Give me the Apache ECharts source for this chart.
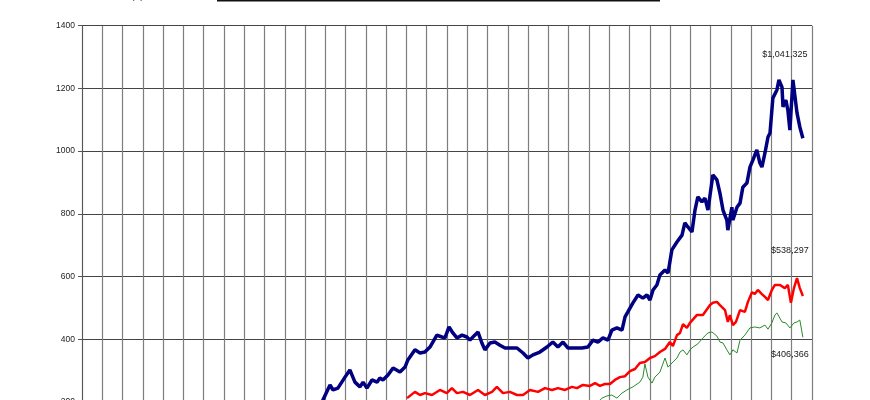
<!DOCTYPE html>
<html>
<head>
<meta charset="utf-8">
<script src="https://cdn.jsdelivr.net/npm/echarts@6/dist/echarts.min.js"></script>
<style>
html,body{margin:0;padding:0;background:#fff;}
#chart{width:870px;height:400px;}
</style>
</head>
<body>
<div id="chart"></div>
<script>
// x = year index along the 36 grid columns, y = value in thousands ($)
const yTicks = [0, 200, 400, 600, 800, 1000, 1200, 1400];
const yearColumns = 36;
const axisTitle = 'In Thousands ($)';
const endLabels = ['$1,041,325', '$538,297', '$406,366'];

const navy = [
[11.64,174],[11.88,206],[12.23,254],[12.38,238],[12.62,244],[12.97,279],[13.21,302],[13.46,263],[13.71,248],[13.86,263],
[14.05,244],[14.30,270],[14.55,263],[14.69,276],[14.84,270],[15.09,286],[15.34,308],[15.68,295],[15.93,311],[16.07,334],
[16.42,366],[16.67,356],[16.91,359],[17.16,375],[17.50,413],[17.75,407],[17.90,404],[18.10,439],[18.29,420],[18.49,404],
[18.74,413],[18.98,407],[19.13,397],[19.28,407],[19.53,423],[19.72,388],[19.87,366],[20.12,388],[20.36,391],[20.61,381],
[20.86,372],[21.10,372],[21.45,372],[21.75,356],[21.99,340],[22.24,350],[22.58,359],[22.93,375],[23.22,391],[23.47,375],
[23.72,391],[23.96,372],[24.31,372],[24.65,372],[24.95,375],[25.20,397],[25.44,391],[25.69,404],[25.94,397],[26.13,429],
[26.38,436],[26.63,429],[26.78,471],[26.92,487],[27.17,516],[27.42,541],[27.66,531],[27.86,541],[28.01,525],[28.16,557],
[28.35,573],[28.50,605],[28.75,621],[28.90,611],[29.09,685],[29.34,710],[29.59,732],[29.73,771],[29.88,758],[30.08,742],
[30.23,812],[30.37,854],[30.57,838],[30.72,850],[30.87,812],[31.11,924],[31.31,908],[31.46,866],[31.61,812],[31.80,780],
[31.85,748],[32.05,821],[32.10,780],[32.30,821],[32.45,834],[32.59,885],[32.79,898],[32.94,949],[33.09,972],[33.28,1004],
[33.43,962],[33.53,949],[33.68,994],[33.83,1045],[33.93,1058],[34.07,1169],[34.27,1195],[34.37,1227],[34.52,1204],[34.57,1141],
[34.71,1163],[34.81,1131],[34.91,1067],[35.06,1227],[35.26,1122],[35.40,1077],[35.55,1041]
];

const red = [
[16.03,212],[16.42,232],[16.67,222],[16.91,228],[17.26,222],[17.65,238],[17.99,228],[18.24,244],[18.49,228],[18.79,232],
[19.13,222],[19.53,238],[19.87,222],[20.22,232],[20.46,248],[20.76,228],[21.10,232],[21.45,222],[21.75,222],[22.09,238],
[22.49,232],[22.83,244],[23.18,238],[23.47,244],[23.82,238],[24.16,248],[24.41,244],[24.70,254],[25.05,251],[25.30,260],
[25.54,251],[25.79,257],[26.04,257],[26.28,270],[26.53,279],[26.78,282],[27.02,298],[27.27,305],[27.51,324],[27.76,327],
[28.01,340],[28.25,346],[28.50,359],[28.75,369],[28.99,391],[29.14,378],[29.34,413],[29.49,420],[29.64,448],[29.83,436],
[29.98,452],[30.32,477],[30.62,477],[30.97,509],[31.11,516],[31.31,519],[31.46,509],[31.71,493],[31.85,455],[31.95,477],
[32.10,445],[32.25,455],[32.45,493],[32.69,487],[32.84,519],[33.04,550],[33.18,544],[33.33,557],[33.53,544],[33.68,535],
[33.83,525],[34.02,557],[34.17,573],[34.42,573],[34.66,563],[34.81,573],[34.96,516],[35.11,563],[35.26,595],[35.40,563],
[35.55,538]
];

const green = [
[25.39,195],[25.64,212],[25.89,219],[26.13,222],[26.38,212],[26.63,228],[26.87,238],[27.17,248],[27.51,263],[27.66,279],
[27.76,321],[27.91,279],[28.11,260],[28.25,279],[28.50,295],[28.75,340],[28.90,311],[29.14,327],[29.34,340],[29.49,359],
[29.64,366],[29.83,350],[29.98,366],[30.13,375],[30.37,385],[30.62,404],[30.87,420],[31.07,423],[31.31,410],[31.46,391],
[31.61,388],[31.80,366],[31.95,350],[32.10,366],[32.30,356],[32.45,397],[32.69,413],[32.94,436],[33.18,439],[33.43,436],
[33.68,445],[33.83,432],[34.02,452],[34.17,477],[34.27,484],[34.52,455],[34.71,452],[34.91,436],[35.11,452],[35.26,455],
[35.40,461],[35.55,406]
];

const chart = echarts.init(document.getElementById('chart'), null, {renderer: 'canvas'});

function endMark(pts, text, offset) {
  return {
    silent: true,
    animation: false,
    data: [{
      coord: pts[pts.length - 1],
      symbol: 'circle',
      symbolSize: 0,
      label: {
        show: true,
        position: 'inside',
        formatter: text,
        offset: offset,
        color: '#1a1a1a',
        fontSize: 9,
        fontFamily: 'Liberation Sans, Arial, sans-serif'
      }
    }]
  };
}

chart.setOption({
  animation: false,
  backgroundColor: '#ffffff',
  grid: {
    left: 82, top: 25.7, width: 730, height: 438.9,
    containLabel: false,
    outerBoundsMode: 'none',
    show: false
  },
  xAxis: {
    type: 'value',
    min: 0, max: yearColumns, interval: 1,
    axisLine: {show: true, lineStyle: {color: '#555', width: 1}},
    axisTick: {show: false},
    axisLabel: {show: false},
    splitLine: {show: true, lineStyle: {color: '#7d7d7d', width: 1.2}}
  },
  yAxis: {
    type: 'value',
    min: yTicks[0], max: yTicks[yTicks.length - 1], interval: 200,
    axisLine: {show: true, lineStyle: {color: '#555', width: 1}},
    axisTick: {show: true, length: 4, lineStyle: {color: '#555'}},
    axisLabel: {
      show: true, margin: 7, color: '#222', fontSize: 8.5,
      fontFamily: 'Liberation Sans, Arial, sans-serif',
      formatter: function (v) { return String(v); }
    },
    splitLine: {show: true, lineStyle: {color: '#444', width: 1}}
  },
  graphic: [
    {
      type: 'text', left: 68, top: -9,
      style: {text: axisTitle, fill: '#333', fontSize: 10, fontFamily: 'Liberation Sans, Arial, sans-serif'}
    },
    {
      type: 'line', shape: {x1: 217, y1: 0.5, x2: 660, y2: 0.5},
      style: {stroke: '#111', lineWidth: 2}
    }
  ],
  series: [
    {
      type: 'line', data: green, showSymbol: false, z: 3,
      lineStyle: {color: '#2a8a2a', width: 1},
      markPoint: endMark(green, endLabels[2], [-13, 17])
    },
    {
      type: 'line', data: red, showSymbol: false, z: 4,
      lineStyle: {color: '#ff0000', width: 2.5},
      markPoint: endMark(red, endLabels[1], [-13, -45])
    },
    {
      type: 'line', data: navy, showSymbol: false, z: 5,
      lineStyle: {color: '#000080', width: 3.5},
      markPoint: endMark(navy, endLabels[0], [-18, -84])
    }
  ]
});
</script>
</body>
</html>
